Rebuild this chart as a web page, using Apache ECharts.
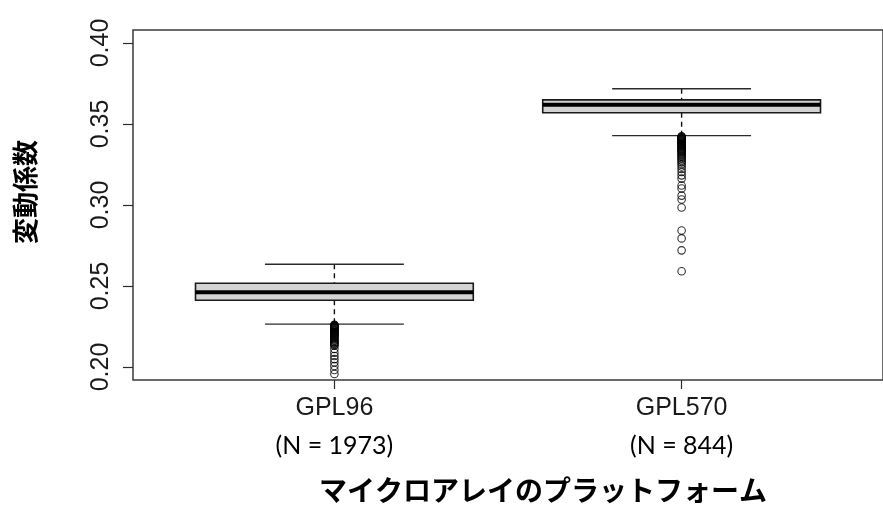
<!DOCTYPE html>
<html>
<head>
<meta charset="utf-8">
<script src="https://cdn.jsdelivr.net/npm/echarts@6/dist/echarts.min.js"></script>
<style>
  html, body { margin: 0; padding: 0; background: #fff; }
  #chart { width: 883px; height: 521px; }
</style>
</head>
<body>
<div id="chart"></div>
<script>
// Platforms and their sample counts
const platforms = ['GPL96', 'GPL570'];
const sampleCounts = [1973, 844];
const positions = [1, 2];

// Five-number summaries (coefficient of variation)
const whiskerLow = [0.2265, 0.3428];
const q1 = [0.2412, 0.3569];
const median = [0.2462, 0.3618];
const q3 = [0.2517, 0.3649];
const whiskerHigh = [0.2634, 0.3717];

// Outlying values per platform
const outliersGPL96 = [
  0.2261, 0.2259, 0.2256, 0.2254, 0.2251, 0.2249, 0.2246, 0.2243, 0.2240, 0.2236,
  0.2233, 0.2229, 0.2226, 0.2222, 0.2218, 0.2215, 0.2211, 0.2206, 0.2202, 0.2197,
  0.2193, 0.2189, 0.2184, 0.2179, 0.2172, 0.2166, 0.2161, 0.2155, 0.2149, 0.2143,
  0.2137, 0.2131, 0.2112, 0.2088, 0.2068, 0.2049, 0.2030, 0.2006, 0.1982, 0.1957
];
const outliersGPL570 = [
  0.3424, 0.3421, 0.3418, 0.3415, 0.3412, 0.3409, 0.3406, 0.3403, 0.3399, 0.3396,
  0.3392, 0.3389, 0.3385, 0.3381, 0.3377, 0.3373, 0.3369, 0.3365, 0.3361, 0.3356,
  0.3351, 0.3346, 0.3341, 0.3336, 0.3331, 0.3325, 0.3319, 0.3312, 0.3305, 0.3298,
  0.3290, 0.3282, 0.3272, 0.3262, 0.3252, 0.3238, 0.3222, 0.3204, 0.3183, 0.3163,
  0.3120, 0.3102, 0.3058, 0.3034, 0.2985, 0.2843, 0.2794, 0.2720, 0.2591
];

// Axis tick values
const yTicks = [0.20, 0.25, 0.30, 0.35, 0.40];

const boxData = positions.map((x, i) => [x, whiskerLow[i], q1[i], median[i], q3[i], whiskerHigh[i]]);
const outlierData = [];
outliersGPL96.forEach(v => outlierData.push([positions[0], v]));
outliersGPL570.forEach(v => outlierData.push([positions[1], v]));

const lineColor = '#2b2b2b';
const arial = '"Liberation Sans", Arial, sans-serif';

function renderBox(params, api) {
  const x = api.value(0);
  const lo = api.value(1), b1 = api.value(2), md = api.value(3), b3 = api.value(4), hi = api.value(5);
  const halfBox = 0.4, halfStaple = 0.2;
  const pLeft = api.coord([x - halfBox, b3]);
  const pRight = api.coord([x + halfBox, b1]);
  const c = api.coord([x, md]);
  const yLo = api.coord([x, lo])[1], yHi = api.coord([x, hi])[1];
  const yQ1 = api.coord([x, b1])[1], yQ3 = api.coord([x, b3])[1];
  const sL = api.coord([x - halfStaple, lo])[0], sR = api.coord([x + halfStaple, lo])[0];
  const dash = { stroke: '#111', lineWidth: 1.4, lineDash: [5, 4] };
  const solid = { stroke: lineColor, lineWidth: 1.4 };
  return {
    type: 'group',
    children: [
      { type: 'line', shape: { x1: c[0], y1: yHi, x2: c[0], y2: yQ3 }, style: dash },
      { type: 'line', shape: { x1: c[0], y1: yQ1, x2: c[0], y2: yLo }, style: dash },
      { type: 'line', shape: { x1: sL, y1: yHi, x2: sR, y2: yHi }, style: solid },
      { type: 'line', shape: { x1: sL, y1: yLo, x2: sR, y2: yLo }, style: solid },
      { type: 'rect', shape: { x: pLeft[0], y: pLeft[1], width: pRight[0] - pLeft[0], height: pRight[1] - pLeft[1] },
        style: { fill: '#d3d3d3', stroke: '#1a1a1a', lineWidth: 1.6 } },
      { type: 'line', shape: { x1: pLeft[0], y1: c[1], x2: pRight[0], y2: c[1] },
        style: { stroke: '#000', lineWidth: 4 } }
    ]
  };
}

const chart = echarts.init(document.getElementById('chart'));
chart.setOption({
  animation: false,
  backgroundColor: '#fff',
  grid: {
    show: true, left: 133, top: 30, width: 758, height: 350,
    borderColor: '#3a3a3a', borderWidth: 1.5, backgroundColor: 'transparent'
  },
  xAxis: {
    type: 'value', min: 0.42, max: 2.58,
    axisLine: { show: false },
    splitLine: { show: false },
    axisTick: { show: true, length: 9, customValues: positions, lineStyle: { color: lineColor, width: 1.2 } },
    axisLabel: {
      customValues: positions,
      margin: 11,
      formatter: v => {
        const i = positions.indexOf(v);
        return i < 0 ? '' : '{p|' + platforms[i] + '}\n{n|(N = ' + sampleCounts[i] + ')}';
      },
      rich: {
        p: { fontFamily: arial, fontSize: 25, color: '#1a1a1a', lineHeight: 34 },
        n: { fontFamily: 'Lato, sans-serif', fontSize: 25, color: '#000', lineHeight: 42 }
      }
    }
  },
  yAxis: {
    type: 'value', min: 0.192, max: 0.408,
    axisLine: { show: false },
    splitLine: { show: false },
    axisTick: { show: true, length: 10, customValues: yTicks, lineStyle: { color: lineColor, width: 1.2 } },
    axisLabel: {
      customValues: yTicks,
      rotate: 90,
      margin: 19,
      formatter: v => v.toFixed(2),
      fontFamily: arial,
      fontSize: 25,
      color: '#1a1a1a'
    }
  },
  graphic: [
    { type: 'text', x: 25, y: 192, rotation: Math.PI / 2,
      style: { text: '変動係数', align: 'center', verticalAlign: 'middle',
        font: 'bold 26px "Noto Sans CJK JP"', fill: '#000' } },
    { type: 'text', x: 543, y: 490,
      style: { text: 'マイクロアレイのプラットフォーム', align: 'center', verticalAlign: 'middle',
        font: 'bold 28px "Noto Sans CJK JP"', fill: '#000' } }
  ],
  series: [
    {
      type: 'custom',
      renderItem: renderBox,
      data: boxData,
      encode: { x: 0, y: [1, 2, 3, 4, 5] },
      z: 2
    },
    {
      type: 'scatter',
      data: outlierData,
      symbol: 'circle',
      symbolSize: 7.5,
      clip: false,
      itemStyle: { color: 'rgba(0,0,0,0)', borderColor: '#000', borderWidth: 1.1 },
      z: 3
    }
  ]
});
</script>
</body>
</html>
